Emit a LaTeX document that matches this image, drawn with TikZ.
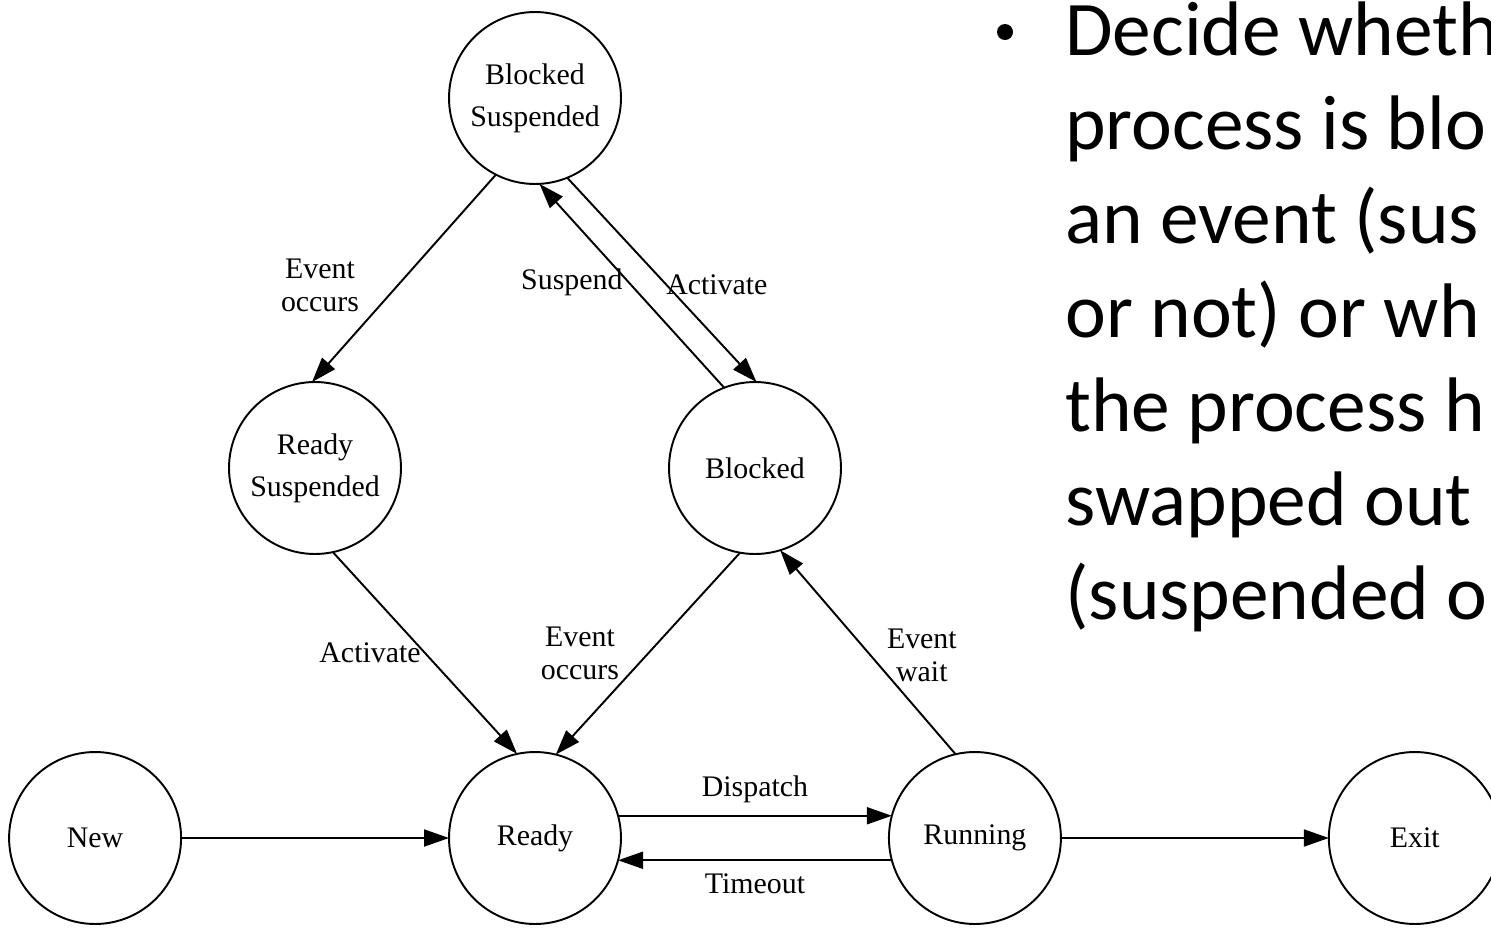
\documentclass[tikz,border=0pt]{standalone}
\usepackage{fontspec}
\setmainfont{Liberation Serif}
\newfontfamily\slidefont{Carlito}
\usetikzlibrary{arrows.meta,positioning}

\begin{document}
\begin{tikzpicture}[
  x=0.02cm,y=-0.02cm,
  state/.style={draw,circle,line width=1.1pt,minimum size=3.44cm,inner sep=0pt,
                outer sep=0pt,align=center,font=\fontsize{17}{24}\selectfont},
  arrow/.style={-{Triangle[length=0.5cm,width=0.34cm]},line width=1.1pt},
  lbl/.style={align=center,inner sep=0pt,font=\fontsize{17}{19}\selectfont},
  slidetxt/.style={inner sep=0pt,font=\slidefont\fontsize{44}{53}\selectfont},
  node distance=5.36cm
]
\clip (0,0) rectangle (1491,927);
% process states
\node[state] (ready) at (535,838) {Ready};
\node[state,left=of ready] (new) {New};
\node[state,right=of ready] (running) {Running};
\node[state,right=of running] (exit) {Exit};
\node[state] (rsusp) at (315,468) {Ready\\Suspended};
\node[state] (blocked) at (755,468) {Blocked};
\node[state] (bsusp) at (535,98) {Blocked\\Suspended};
% transitions
\draw[arrow] (bsusp.-117) -- node[lbl,xshift=-1.68cm,yshift=-0.14cm] {Event\\occurs} (rsusp.92);
\draw[arrow] (blocked.111) -- node[lbl,xshift=-1.2cm,yshift=0.06cm] {Suspend} (bsusp.-87);
\draw[arrow] (bsusp.-68) -- node[lbl,xshift=1.1cm,yshift=-0.1cm] {Activate} (blocked.89);
\draw[arrow] (rsusp.-78) -- node[lbl,xshift=-1.1cm] {Activate} (ready.102);
\draw[arrow] (blocked.-100) -- node[lbl,xshift=-1.36cm] {Event\\occurs} (ready.76);
\draw[arrow] (running.103) -- node[lbl,xshift=1.08cm,yshift=-0.06cm] {Event\\wait} (blocked.-73);
\draw[arrow] (new) -- (ready);
\draw[arrow] (ready.15) -- node[lbl,yshift=0.52cm] {Dispatch} (running.165);
\draw[arrow] (running.-165) -- node[lbl,yshift=-0.46cm] {Timeout} (ready.-15);
\draw[arrow] (running) -- (exit);
% slide text
\node[circle,fill,inner sep=0pt,minimum size=0.32cm] (bullet) at (1005,32) {};
\foreach \ln [count=\i from 0] in {{Decide wheth},{process is blo},{an event (sus},
    {or not) or wh},{the process h},{swapped out},{(suspended o}}
  \node[slidetxt,anchor=base west] (line\i) at (1065,{55+94*\i}) {\ln};
\end{tikzpicture}
\end{document}
